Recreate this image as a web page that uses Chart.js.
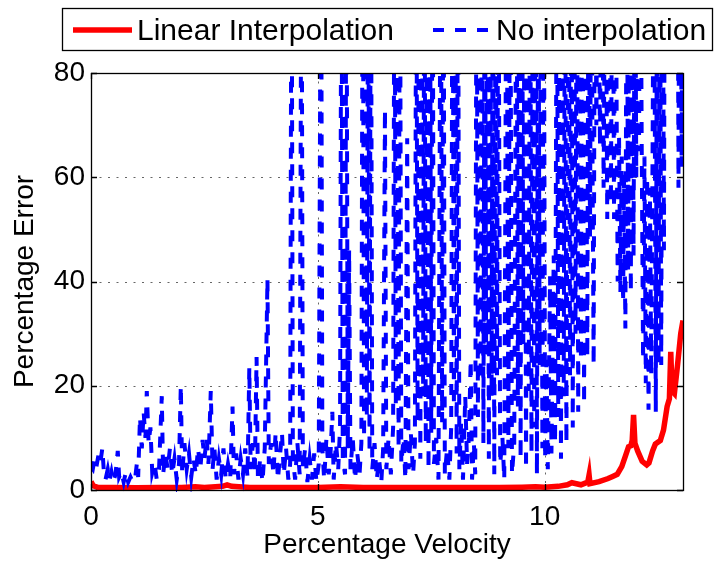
<!DOCTYPE html>
<html>
<head>
<meta charset="utf-8">
<title>Percentage Error vs Percentage Velocity</title>
<script src="https://cdn.jsdelivr.net/npm/chart.js@4.4.0/dist/chart.umd.min.js"></script>
<style>
  html, body { margin: 0; padding: 0; background: #fff; }
  #wrap { width: 714px; height: 562px; }
</style>
</head>
<body>
<div id="wrap"><canvas id="errChart" width="714" height="562"></canvas></div>
<script>
// series names and axis ticks
var seriesLabels = ['Linear Interpolation', 'No interpolation'];
var xTicks = [0, 5, 10];
var yTicks = [0, 20, 40, 60, 80];
var xMax = 13.05;
var yMax = 80;

// [velocity, error]
var linearInterp = [
    [0.00, 1.6], [0.05, 0.8], [0.15, 0.5], [0.5, 0.5], [1.0, 0.45], [1.5, 0.5], [2.0, 0.5],
    [2.3, 0.6], [2.5, 0.5], [2.9, 0.7], [3.0, 1.0], [3.1, 0.7], [3.5, 0.5], [4.0, 0.5],
    [5.0, 0.5], [5.5, 0.6], [6.0, 0.5], [7.0, 0.5], [8.0, 0.5], [9.0, 0.5], [9.5, 0.55],
    [9.8, 0.6], [10.0, 0.55], [10.3, 0.7], [10.5, 1.0], [10.6, 1.4], [10.7, 1.2], [10.8, 1.0],
    [10.95, 1.5], [10.98, 2.9], [11.0, 1.2], [11.2, 1.6], [11.4, 2.2], [11.5, 2.6], [11.6, 3.0],
    [11.7, 4.5], [11.78, 6.5], [11.85, 8.3], [11.9, 8.5], [11.93, 9.5], [11.96, 14.4], [11.99, 9],
    [12.05, 7.5], [12.15, 5.5], [12.25, 4.8], [12.3, 5.2], [12.38, 7.5], [12.44, 8.8], [12.55, 9.5],
    [12.62, 11.5], [12.7, 16], [12.75, 17.5], [12.78, 26.5], [12.81, 19], [12.86, 18.5],
    [12.93, 24], [13.0, 30], [13.05, 32.5]
];

var noInterp = [
    [0.00, 4.5], [0.04, 4], [0.08, 6], [0.12, 4.5], [0.17, 7], [0.21, 5.5], [0.25, 8], [0.28, 4],
    [0.32, 2], [0.37, 4], [0.41, 2], [0.45, 3.5], [0.49, 1.5], [0.54, 3], [0.59, 7.5], [0.62, 2.5],
    [0.67, 3.5], [0.72, 1.5], [0.77, 3.5], [0.82, 1.5], [0.87, 2.5], [0.92, 1.5], [0.97, 2],
    [1.01, 5], [1.04, 2.5], [1.08, 14], [1.12, 8], [1.16, 15], [1.20, 10], [1.23, 19], [1.27, 9],
    [1.31, 12], [1.35, 3.3], [1.40, 5], [1.45, 2], [1.50, 4], [1.56, 18], [1.59, 3], [1.64, 7],
    [1.69, 4], [1.74, 8], [1.79, 3], [1.84, 6], [1.89, 2], [1.94, 5], [1.98, 20], [2.01, 3],
    [2.06, 9], [2.11, 4], [2.16, 7], [2.21, 2.5], [2.26, 6], [2.31, 3], [2.36, 8], [2.41, 4],
    [2.46, 9.6], [2.50, 6], [2.55, 10], [2.59, 5], [2.64, 19], [2.68, 4], [2.72, 8], [2.77, 2],
    [2.82, 6], [2.87, 3], [2.92, 8], [2.97, 2], [3.02, 5], [3.07, 2.5], [3.12, 16], [3.15, 3],
    [3.20, 7], [3.25, 2], [3.30, 6], [3.35, 3], [3.40, 8], [3.45, 2.5], [3.49, 23.5], [3.52, 4],
    [3.57, 9], [3.61, 3], [3.65, 25.5], [3.68, 2], [3.73, 6], [3.78, 1.5], [3.83, 8], [3.89, 40.5],
    [3.92, 5], [3.97, 9], [4.02, 3], [4.07, 11], [4.12, 2], [4.17, 7], [4.21, 11], [4.25, 3],
    [4.30, 8], [4.35, 2], [4.39, 5], [4.42, 120], [4.45, 6], [4.50, 2], [4.55, 9], [4.60, 3],
    [4.64, 120], [4.67, 4], [4.72, 8], [4.77, 1.5], [4.82, 6], [4.87, 2], [4.92, 7], [4.97, 1.5],
    [5.02, 5], [5.07, 120], [5.10, 8], [5.14, 2], [5.19, 10], [5.24, 3], [5.28, 7], [5.32, 15],
    [5.35, 2], [5.40, 9], [5.45, 4], [5.49, 12], [5.52, 120], [5.55, 6], [5.60, 3], [5.63, 120],
    [5.66, 8], [5.69, 46], [5.72, 4], [5.77, 10], [5.82, 2], [5.87, 7], [5.92, 3], [5.96, 9],
    [5.99, 120], [6.02, 10], [6.05, 120], [6.08, 14], [6.11, 120], [6.14, 7], [6.17, 120],
    [6.20, 4], [6.25, 9], [6.30, 2], [6.35, 6], [6.40, 1.5], [6.44, 8], [6.48, 73], [6.51, 4],
    [6.56, 10], [6.61, 3], [6.66, 12], [6.69, 120], [6.72, 16], [6.75, 120], [6.78, 8],
    [6.81, 120], [6.84, 5], [6.89, 10], [6.93, 2], [6.97, 67.5], [7.00, 4], [7.05, 11], [7.10, 3],
    [7.14, 9], [7.17, 120], [7.20, 13], [7.23, 120], [7.26, 6], [7.29, 120], [7.32, 18],
    [7.35, 120], [7.38, 9], [7.41, 120], [7.44, 4], [7.47, 120], [7.50, 11], [7.53, 120],
    [7.56, 5], [7.61, 10], [7.66, 2], [7.71, 120], [7.74, 13], [7.77, 120], [7.80, 3], [7.85, 8],
    [7.90, 2], [7.94, 12], [7.97, 120], [8.00, 16], [8.03, 120], [8.06, 7], [8.09, 120],
    [8.12, 4], [8.16, 13], [8.20, 2], [8.25, 18], [8.29, 5], [8.33, 10], [8.37, 25], [8.40, 2],
    [8.44, 9], [8.47, 3], [8.50, 120], [8.53, 14], [8.56, 120], [8.59, 21], [8.62, 120],
    [8.65, 9], [8.68, 120], [8.71, 26], [8.74, 120], [8.77, 6], [8.80, 120], [8.83, 18],
    [8.86, 120], [8.89, 3], [8.92, 120], [8.95, 22], [8.98, 120], [9.02, 5], [9.07, 10],
    [9.11, 2], [9.16, 120], [9.20, 8], [9.24, 120], [9.28, 3], [9.33, 9], [9.38, 120], [9.41, 16],
    [9.44, 120], [9.47, 6], [9.50, 120], [9.53, 28], [9.56, 120], [9.59, 4], [9.62, 120],
    [9.65, 19], [9.68, 120], [9.71, 7], [9.74, 120], [9.77, 12], [9.80, 120], [9.83, 3],
    [9.86, 120], [9.89, 24], [9.92, 120], [9.95, 8], [9.98, 120], [10.01, 6], [10.04, 25],
    [10.07, 4], [10.12, 41], [10.15, 7], [10.20, 45], [10.23, 9], [10.27, 120], [10.30, 14],
    [10.33, 120], [10.36, 6], [10.39, 120], [10.42, 18], [10.45, 120], [10.48, 9], [10.53, 120],
    [10.56, 22], [10.59, 120], [10.62, 12], [10.65, 120], [10.68, 30], [10.71, 120], [10.74, 15],
    [10.77, 120], [10.80, 25], [10.83, 120], [10.87, 16.5], [10.90, 120], [10.94, 25.5],
    [10.97, 120], [11.00, 48.5], [11.03, 120], [11.06, 55], [11.08, 24], [11.11, 120],
    [11.14, 70], [11.18, 120], [11.22, 66], [11.26, 120], [11.30, 58], [11.34, 120], [11.38, 52],
    [11.42, 120], [11.46, 55], [11.50, 120], [11.53, 52], [11.56, 120], [11.59, 68], [11.61, 40],
    [11.64, 68], [11.67, 38], [11.70, 64], [11.73, 36], [11.75, 60], [11.78, 31], [11.81, 120],
    [11.84, 42], [11.87, 120], [11.90, 38], [11.93, 120], [11.96, 45], [11.99, 120], [12.02, 60],
    [12.05, 120], [12.08, 65], [12.11, 120], [12.14, 66], [12.17, 25], [12.20, 64], [12.23, 20.5],
    [12.26, 60], [12.29, 15.4], [12.32, 58], [12.35, 22], [12.38, 66], [12.41, 120], [12.45, 15],
    [12.48, 120], [12.51, 24], [12.54, 120], [12.57, 24], [12.60, 120], [12.63, 46], [12.66, 150],
    [12.92, 150], [12.95, 58], [12.98, 150], [13.02, 62], [13.05, 150]
];

function toPoints(list) {
    return list.map(function(p) { return { x: p[0], y: p[1] }; });
}

var fontFamily = "'Liberation Sans', Arial, Helvetica, sans-serif";

// box, dotted grid, inner ticks and legend in the old matlab look
var matlabFrame = {
    id: 'matlabFrame',
    beforeDatasetsDraw: function(chart) {
        var ctx = chart.ctx, area = chart.chartArea;
        var xs = chart.scales.x, ys = chart.scales.y;
        ctx.save();
        ctx.strokeStyle = '#666';
        ctx.lineWidth = 1;
        ctx.setLineDash([2, 6.5]);
        xTicks.forEach(function(v) {
            var px = Math.round(xs.getPixelForValue(v)) + 0.5;
            if (v <= 0) return;
            ctx.beginPath(); ctx.moveTo(px, area.top); ctx.lineTo(px, area.bottom); ctx.stroke();
        });
        yTicks.forEach(function(v) {
            var py = Math.round(ys.getPixelForValue(v)) + 0.5;
            if (v <= 0 || v >= yMax) return;
            ctx.beginPath(); ctx.moveTo(area.left, py); ctx.lineTo(area.right, py); ctx.stroke();
        });
        ctx.restore();
    },
    afterDatasetsDraw: function(chart) {
        var ctx = chart.ctx, area = chart.chartArea;
        var xs = chart.scales.x, ys = chart.scales.y;
        var tick = 6;
        ctx.save();
        ctx.strokeStyle = '#000';
        ctx.lineWidth = 1.3;
        ctx.setLineDash([]);
        ctx.strokeRect(area.left + 0.5, area.top + 0.5, area.right - area.left, area.bottom - area.top);
        ctx.beginPath();
        xTicks.forEach(function(v) {
            var px = Math.round(xs.getPixelForValue(v)) + 0.5;
            ctx.moveTo(px, area.bottom); ctx.lineTo(px, area.bottom - tick);
            ctx.moveTo(px, area.top); ctx.lineTo(px, area.top + tick);
        });
        yTicks.forEach(function(v) {
            var py = Math.round(ys.getPixelForValue(v)) + 0.5;
            ctx.moveTo(area.left, py); ctx.lineTo(area.left + tick, py);
            ctx.moveTo(area.right, py); ctx.lineTo(area.right - tick, py);
        });
        ctx.stroke();
        ctx.restore();
    },
    afterDraw: function(chart) {
        var ctx = chart.ctx;
        var sets = chart.data.datasets;
        ctx.save();
        ctx.fillStyle = '#fff';
        ctx.fillRect(62, 8, 650, 42);
        ctx.strokeStyle = '#000';
        ctx.lineWidth = 1.3;
        ctx.strokeRect(62.5, 8.5, 650, 42);

        var items = [
            { x0: 73, x1: 132, tx: 137 },
            { x0: 433, x1: 490, tx: 496 }
        ];
        ctx.font = '30px ' + fontFamily;
        ctx.textBaseline = 'alphabetic';
        items.forEach(function(it, i) {
            var ds = sets[i];
            ctx.strokeStyle = ds.borderColor;
            ctx.lineWidth = ds.borderWidth;
            ctx.setLineDash(ds.borderDash || []);
            ctx.beginPath(); ctx.moveTo(it.x0, 30); ctx.lineTo(it.x1, 30); ctx.stroke();
            ctx.fillStyle = '#000';
            ctx.fillText(ds.label, it.tx, 40);
        });
        ctx.restore();
    }
};

var ctx = document.getElementById('errChart').getContext('2d');
var errChart = new Chart(ctx, {
    type: 'line',
    data: {
        datasets: [{
            label: seriesLabels[0],
            data: toPoints(linearInterp),
            borderColor: '#ff0000',
            borderWidth: 5.5,
            pointRadius: 0,
            tension: 0,
            order: 1,
            clip: { left: 0, top: 0, right: 0, bottom: 3 }
        }, {
            label: seriesLabels[1],
            data: toPoints(noInterp),
            borderColor: '#0000ff',
            borderWidth: 4,
            borderDash: [11, 11],
            pointRadius: 0,
            tension: 0,
            order: 0,
            clip: { left: 0, top: 0, right: 0, bottom: 2 }
        }]
    },
    options: {
        responsive: false,
        animation: false,
        devicePixelRatio: 1,
        layout: { padding: { top: 73, right: 31, left: 0, bottom: 0 } },
        plugins: {
            legend: { display: false },
            tooltip: { enabled: false }
        },
        scales: {
            x: {
                type: 'linear',
                min: 0,
                max: xMax,
                afterBuildTicks: function(scale) {
                    scale.ticks = xTicks.map(function(v) { return { value: v }; });
                },
                afterFit: function(scale) { scale.height = 72; },
                grid: { display: false, drawTicks: false },
                border: { display: false },
                ticks: {
                    color: '#000',
                    padding: 10,
                    maxRotation: 0,
                    font: { family: fontFamily, size: 28 }
                },
                title: {
                    display: true,
                    text: 'Percentage Velocity',
                    color: '#000',
                    padding: { top: 0, bottom: 0 },
                    font: { family: fontFamily, size: 28 }
                }
            },
            y: {
                min: 0,
                max: yMax,
                afterBuildTicks: function(scale) {
                    scale.ticks = yTicks.map(function(v) { return { value: v }; });
                },
                afterFit: function(scale) { scale.width = 91; },
                grid: { display: false, drawTicks: false },
                border: { display: false },
                ticks: {
                    color: '#000',
                    padding: 6,
                    font: { family: fontFamily, size: 28 }
                },
                title: {
                    display: true,
                    text: 'Percentage Error',
                    color: '#000',
                    padding: { top: 8, bottom: 0 },
                    font: { family: fontFamily, size: 28 }
                }
            }
        }
    },
    plugins: [matlabFrame]
});
</script>
</body>
</html>
